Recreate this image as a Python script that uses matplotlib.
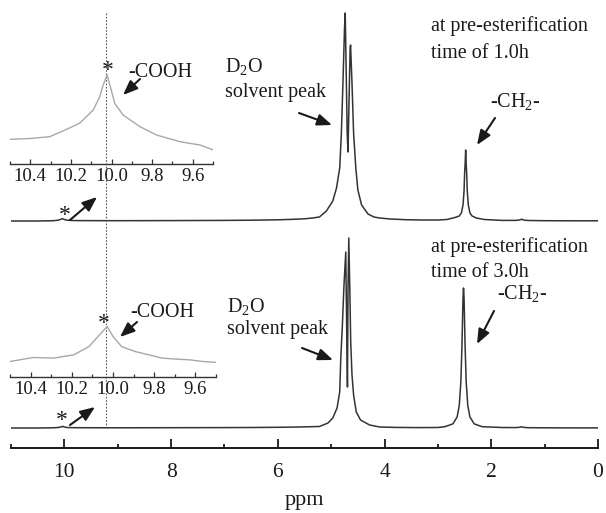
import matplotlib
matplotlib.use('Agg')
import matplotlib.pyplot as plt
from matplotlib.transforms import blended_transform_factory
from matplotlib.ticker import FixedLocator

plt.rcParams['font.family'] = ['Liberation Serif', 'DejaVu Serif']
plt.rcParams['mathtext.fontset'] = 'custom'
plt.rcParams['mathtext.rm'] = 'Liberation Serif'
plt.rcParams['mathtext.it'] = 'Liberation Serif:italic'

# ---------------- data ----------------
# upper spectrum: pre-esterification 1.0 h   (ppm, intensity a.u.)
top_ppm = [11.0, 10.5, 10.2, 10.12, 10.07, 10.04, 10.0, 9.95, 9.8, 9.0, 8.0, 7.0,
           6.5, 6.0, 5.7, 5.5, 5.35, 5.22, 5.09, 4.97, 4.90, 4.84, 4.81, 4.78,
           4.75, 4.737, 4.72, 4.70, 4.685, 4.665, 4.645, 4.637, 4.61, 4.58, 4.54,
           4.50, 4.43, 4.31, 4.2, 4.09, 3.9, 3.6, 3.3, 3.0, 2.83, 2.68, 2.60,
           2.56, 2.53, 2.51, 2.50, 2.49, 2.48, 2.47, 2.46, 2.45, 2.43, 2.40,
           2.36, 2.28, 2.13, 1.8, 1.55, 1.47, 1.43, 1.39, 1.3, 1.0, 0.5, 0.0]
top_int = [0.0, 0.0, 0.3, 0.8, 1.6, 2.4, 1.5, 0.8, 0.4, 0.3, 0.4, 0.6,
           0.8, 1.2, 1.7, 2.2, 3.0, 4.0, 10, 20, 33, 53, 87, 137,
           193, 208, 154, 88, 69, 121, 172, 176, 138, 88, 54,
           31, 16, 7, 4, 3, 2, 1.3, 1.0, 1.0, 1.5, 3.5, 5.0,
           8, 16, 30, 47, 57, 71, 57, 47, 30, 16, 8,
           5.0, 3.0, 1.5, 0.6, 0.6, 1.0, 1.8, 0.9, 0.5, 0.3, 0.2, 0.2]

# lower spectrum: pre-esterification 3.0 h
bot_ppm = [11.0, 10.5, 10.2, 10.1, 10.06, 10.03, 10.0, 9.95, 9.8, 9.0, 8.0, 7.0,
           6.5, 6.0, 5.6, 5.22, 5.06, 4.97, 4.89, 4.84, 4.82, 4.79, 4.76,
           4.727, 4.71, 4.695, 4.685, 4.67, 4.65, 4.634, 4.61, 4.58, 4.53,
           4.45, 4.28, 4.09, 3.8, 3.4, 3.0, 2.87, 2.72, 2.64, 2.60, 2.57,
           2.55, 2.54, 2.53, 2.52, 2.51, 2.50, 2.49, 2.47, 2.44, 2.40, 2.32,
           2.17, 1.8, 1.55, 1.47, 1.43, 1.39, 1.3, 1.0, 0.5, 0.0]
bot_int = [0.0, 0.0, 0.2, 0.6, 1.2, 1.6, 1.0, 0.5, 0.3, 0.2, 0.3, 0.4,
           0.5, 0.7, 1.0, 1.5, 5, 10, 20, 36, 70, 103, 143,
           176, 103, 41, 136, 190, 136, 86, 53, 33, 16,
           8, 3, 1, 0.6, 0.4, 0.5, 1.3, 4.1, 11, 22.4, 46,
           81, 105, 130, 140, 130, 105, 81, 46, 22.4, 11, 4.1,
           1.3, 0.5, 0.4, 0.7, 1.2, 0.6, 0.3, 0.2, 0.1, 0.1]

# inset (1.0 h) around the -COOH signal
ins1_ppm = [10.50, 10.40, 10.305, 10.247, 10.157, 10.09, 10.058, 10.041, 10.022,
            10.008, 9.984, 9.943, 9.86, 9.778, 9.663, 9.564, 9.498]
ins1_int = [24.7, 25.5, 27.3, 32.3, 40.7, 54, 67.3, 79, 89,
            79, 60.7, 49, 37.3, 29, 22.3, 19, 14]
# inset (3.0 h)
ins2_ppm = [10.50, 10.387, 10.288, 10.19, 10.116, 10.058, 10.028, 10.0, 9.959,
            9.893, 9.827, 9.761, 9.696, 9.63, 9.564, 9.49]
ins2_int = [15, 19, 18.4, 21.7, 30, 43.4, 50, 40, 30,
            25, 21.7, 18.4, 17.4, 16.7, 15, 14]

main_ticks = [10, 8, 6, 4, 2, 0]
main_minor = [11, 9, 7, 5, 3, 1]
inset_ticks = [10.4, 10.2, 10.0, 9.8, 9.6]
inset_minor = [10.5, 10.3, 10.1, 9.9, 9.7, 9.5]
peak_mark_ppm = 10.025

# ---------------- layout ----------------
W, H = 606, 513
fig = plt.figure(figsize=(W / 100, H / 100), dpi=100)


def fbox(x0, y0, x1, y1):
    return [x0 / W, 1 - y1 / H, (x1 - x0) / W, (y1 - y0) / H]


def F(x, y):
    return (x / W, 1 - y / H)


line_col = '#333333'
ink = '#1a1a1a'

ax = fig.add_axes(fbox(11, 0, 598, 448))
ax.patch.set_alpha(0)
ax.set_xlim(11, 0)
ax.set_ylim(0, 448)
off_top = 448 - 221
off_bot = 448 - 428
ax.plot(top_ppm, [v + off_top for v in top_int], color=line_col, lw=1.1)
ax.plot(bot_ppm, [v + off_bot for v in bot_int], color=line_col, lw=1.1)
for s in ['top', 'left', 'right']:
    ax.spines[s].set_visible(False)
ax.spines['bottom'].set_linewidth(1.4)
ax.spines['bottom'].set_color(ink)
ax.set_yticks([])
ax.xaxis.set_major_locator(FixedLocator(main_ticks))
ax.xaxis.set_minor_locator(FixedLocator(main_minor))
ax.tick_params(axis='x', which='major', direction='in', length=6.5, width=1.3,
               color=ink, labelsize=15.5, pad=11, labelcolor=ink)
ax.tick_params(axis='x', which='minor', direction='in', length=3.2, width=1.3, color=ink)
ax.set_xticklabels([str(t) for t in main_ticks])
ax.set_xlabel('ppm', fontsize=16, labelpad=6, color=ink)


def make_inset(box, ppm, inten, ymax):
    a = fig.add_axes(fbox(*box))
    a.patch.set_alpha(0)
    a.set_xlim(10.5, 9.5)
    a.set_ylim(0, ymax)
    a.plot(ppm, inten, color='#a8a8a8', lw=1.0)
    for s in ['top', 'left', 'right']:
        a.spines[s].set_visible(False)
    a.spines['bottom'].set_linewidth(1.0)
    a.spines['bottom'].set_color('#333333')
    a.set_yticks([])
    a.xaxis.set_major_locator(FixedLocator(inset_ticks))
    a.xaxis.set_minor_locator(FixedLocator(inset_minor))
    a.tick_params(axis='x', which='major', direction='in', length=3.5, width=0.9,
                  color='#333333', labelsize=13.5, pad=3, labelcolor=ink)
    a.tick_params(axis='x', which='minor', direction='in', length=2, width=0.9, color='#333333')
    a.set_xticklabels(['%.1f' % t for t in inset_ticks])
    return a


ins1 = make_inset((10, 60, 213, 164), ins1_ppm, ins1_int, 104)
ins2 = make_inset((10, 272, 216, 376.5), ins2_ppm, ins2_int, 104.5)

# dotted guide line through the -COOH maximum
tr = blended_transform_factory(ins1.transData, ax.transData)
ax.plot([peak_mark_ppm, peak_mark_ppm], [448 - 13, 448 - 427], transform=tr,
        color='#555555', lw=0.8, ls=(0, (1.5, 1.5)), clip_on=False)

# ---------------- annotations ----------------
fs = 14.5


def txt(x, y, s, **kw):
    fig.text(*F(x, y), s, fontsize=kw.pop('fontsize', fs), color=ink,
             va='baseline', ha=kw.pop('ha', 'left'), **kw)


def arrow(x0, y0, x1, y1):
    fig.add_artist(matplotlib.patches.FancyArrowPatch(
        F(x0, y0), F(x1, y1), transform=fig.transFigure,
        arrowstyle='-|>,head_length=0.55,head_width=0.22', mutation_scale=16,
        lw=1.5, color=ink, shrinkA=0, shrinkB=0))


star = dict(ha='center', fontsize=17)

# upper panel
txt(431, 31, 'at pre-esterification')
txt(431, 58, 'time of 1.0h')
txt(225, 72, r'D$_2$O')
txt(225, 97, 'solvent peak')
arrow(299, 113, 332, 125)
txt(128, 77, '-COOH')
arrow(140, 79, 123, 95)
txt(108, 76, '*', **star)
txt(65, 221, '*', **star)
arrow(70, 220, 97, 197)
txt(490, 107, r'-CH$_2$-')
arrow(495, 118, 477, 145)

# lower panel
txt(431, 252, 'at pre-esterification')
txt(431, 277, 'time of 3.0h')
txt(227, 312, r'D$_2$O')
txt(227, 334, 'solvent peak')
arrow(302, 348, 333, 360)
txt(130, 317, '-COOH')
arrow(137, 322, 120, 337)
txt(104, 329, '*', **star)
txt(62, 426, '*', **star)
arrow(70, 425, 95, 407)
txt(497, 299, r'-CH$_2$-')
arrow(494, 311, 477, 344)

fig.savefig('out.png', dpi=100)
